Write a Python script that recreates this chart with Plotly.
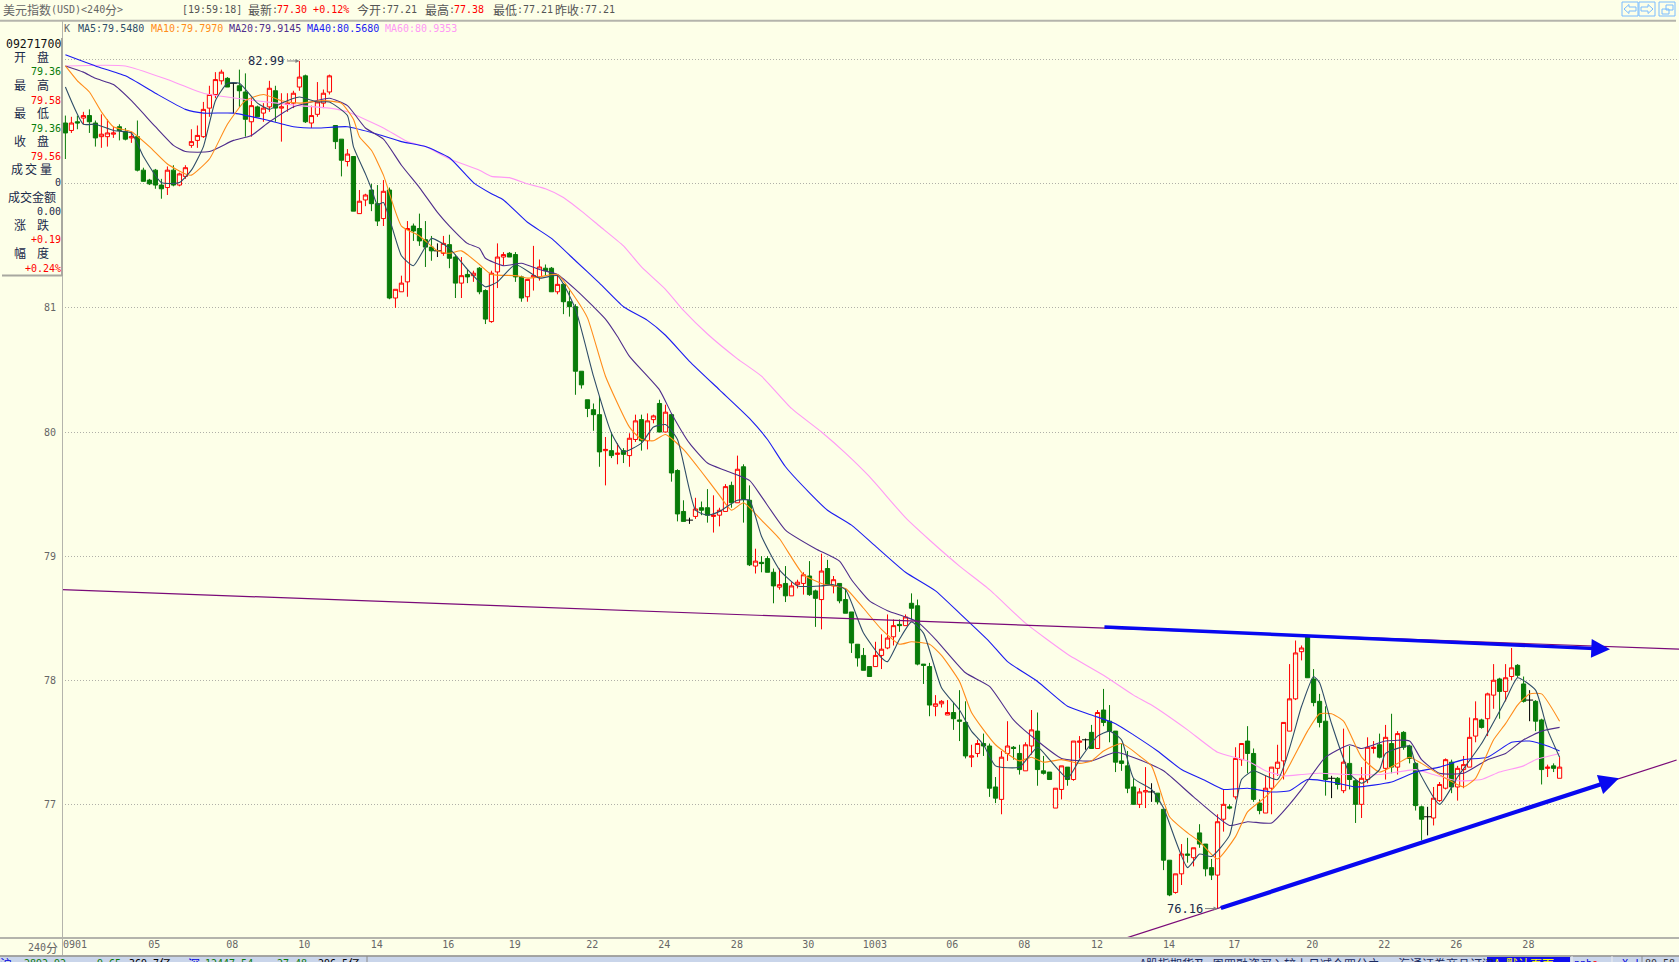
import re
import plotly.graph_objects as go

opens = [82.49,82.43,82.5,82.53,82.55,82.49,82.38,82.38,82.4,82.46,
82.42,82.37,82.38,82.11,82.03,82.11,81.99,81.97,82.11,81.99,
82.06,82.31,82.35,82.38,82.61,82.72,82.83,82.85,82.81,82.79,
82.74,82.5,82.62,82.57,82.62,82.75,82.61,82.64,82.65,82.78,
82.87,82.49,82.56,82.65,82.74,82.47,82.36,82.18,82.22,81.76,
81.87,81.95,81.84,81.72,81.95,81.08,81.13,81.21,81.66,81.64,
81.55,81.49,81.46,81.44,81.51,81.41,81.2,81.27,81.26,81.32,
81.14,80.89,81.29,81.41,81.44,81.43,81.25,81.09,81.25,81.25,
81.32,81.32,81.13,81.19,81.05,81.01,80.49,80.26,80.18,80.14,
79.85,79.85,79.82,79.85,79.81,79.94,80.1,79.93,80.1,80.23,
80.0,80.14,79.69,79.36,79.29,79.32,79.39,79.39,79.32,79.33,
79.36,79.57,79.43,79.72,79.45,78.92,78.95,78.98,78.87,78.75,
78.78,78.68,78.77,78.78,78.84,78.72,78.65,78.9,78.76,78.78,
78.65,78.55,78.29,78.2,78.11,78.11,78.2,78.26,78.35,78.45,
78.44,78.62,78.6,78.13,78.11,77.79,77.81,77.72,77.74,77.68,
77.66,77.38,77.41,77.49,77.47,77.14,77.04,77.41,77.46,77.41,
77.27,77.47,77.59,77.27,77.26,76.97,77.12,77.3,77.2,77.5,
77.52,77.58,77.45,77.76,77.67,77.59,77.35,77.31,77.14,77.0,
77.1,77.1,77.09,76.96,76.55,76.29,76.44,76.6,76.57,76.77,
76.68,76.49,76.43,76.88,76.98,77.06,77.36,77.51,77.41,77.01,
76.93,77.13,77.29,77.35,77.59,77.85,78.23,78.35,78.01,77.83,
77.67,77.21,77.21,77.11,77.33,77.19,77.0,77.2,77.45,77.48,
77.29,77.49,77.3,77.58,77.47,77.33,76.98,76.9,76.89,77.03,
77.13,77.34,77.14,77.28,77.3,77.55,77.68,77.69,77.88,78.01,
77.91,78.03,78.12,77.97,77.84,77.83,77.68,77.29,77.31,77.21]

closes = [82.41,82.49,82.49,82.55,82.5,82.37,82.4,82.41,82.41,82.43,
82.36,82.38,82.11,82.02,82.0,81.99,81.96,82.11,81.99,82.08,
82.13,82.34,82.39,82.6,82.72,82.84,82.9,82.78,82.81,82.75,
82.52,82.63,82.54,82.61,82.77,82.61,82.62,82.65,82.73,82.86,
82.5,82.55,82.66,82.73,82.87,82.34,82.19,82.24,81.78,81.86,
81.91,81.84,81.7,81.94,81.08,81.15,81.2,81.64,81.62,81.54,
81.49,81.46,81.46,81.52,81.4,81.2,81.26,81.25,81.28,81.13,
80.91,81.28,81.41,81.43,81.41,81.25,81.08,81.23,81.26,81.33,
81.3,81.13,81.19,81.05,81.01,80.49,80.38,80.19,80.14,79.84,
79.86,79.81,79.83,79.82,79.95,80.09,79.93,80.09,80.13,80.0,
80.16,79.67,79.34,79.28,79.29,79.38,79.37,79.33,79.33,79.37,
79.56,79.43,79.7,79.46,78.93,78.96,78.94,78.87,78.76,78.77,
78.68,78.76,78.79,78.85,78.69,78.66,78.88,78.77,78.81,78.64,
78.54,78.3,78.18,78.08,78.03,78.2,78.25,78.34,78.44,78.44,
78.51,78.58,78.13,78.12,77.8,77.81,77.83,77.74,77.69,77.67,
77.39,77.39,77.49,77.47,77.13,77.05,77.38,77.47,77.45,77.28,
77.48,77.6,77.28,77.25,77.2,77.13,77.31,77.2,77.51,77.51,
77.52,77.45,77.74,77.66,77.59,77.34,77.33,77.13,77.0,77.1,
77.11,77.1,77.02,76.55,76.27,76.44,76.6,76.59,76.65,76.68,
76.48,76.43,76.86,77.0,76.97,77.37,77.49,77.41,77.04,76.95,
77.13,77.3,77.34,77.66,77.85,78.22,78.26,78.02,77.82,77.66,
77.2,77.21,77.16,77.34,77.2,77.0,77.21,77.46,77.46,77.38,
77.54,77.3,77.57,77.46,77.37,76.99,76.88,76.9,77.05,77.16,
77.36,77.14,77.29,77.32,77.54,77.69,77.62,77.89,78.0,77.91,
78.02,78.1,78.04,77.83,77.84,77.67,77.28,77.3,77.29,77.3]

highs = [82.55,82.54,82.55,82.58,82.6,82.51,82.56,82.52,82.46,82.48,
82.45,82.42,82.51,82.13,82.04,82.12,82.04,82.14,82.15,82.09,
82.15,82.44,82.47,82.66,82.79,82.9,82.92,82.86,82.81,82.92,
82.89,82.69,82.63,82.65,82.83,82.79,82.73,82.73,82.75,82.99,
82.88,82.63,82.82,82.76,82.88,82.47,82.36,82.28,82.22,81.95,
81.92,82.0,81.99,82.03,81.97,81.15,81.26,81.7,81.68,81.76,
81.7,81.58,81.52,81.58,81.59,81.43,81.41,81.31,81.3,81.33,
81.15,81.3,81.52,81.45,81.45,81.45,81.26,81.23,81.5,81.39,
81.35,81.33,81.27,81.2,81.14,81.03,80.49,80.26,80.23,80.29,
79.96,80.0,79.91,79.87,79.99,80.14,80.14,80.15,80.14,80.26,
80.22,80.15,79.7,79.45,79.31,79.47,79.44,79.54,79.49,79.39,
79.58,79.6,79.81,79.74,79.57,79.06,79.0,79.0,78.9,78.9,
78.92,78.79,78.81,78.87,78.96,78.73,79.02,78.97,78.84,78.78,
78.74,78.55,78.29,78.26,78.11,78.31,78.37,78.53,78.49,78.49,
78.53,78.7,78.65,78.13,78.14,77.88,77.84,77.84,77.82,77.92,
77.83,77.48,77.52,77.57,77.49,77.22,77.43,77.67,77.47,77.48,
77.5,77.76,77.74,77.39,77.26,77.13,77.31,77.3,77.51,77.55,
77.53,77.64,77.76,77.93,77.8,77.59,77.49,77.43,77.21,77.13,
77.3,77.17,77.09,76.96,76.55,76.44,76.68,76.73,76.65,76.84,
76.68,76.56,76.92,77.12,77.0,77.46,77.49,77.63,77.45,77.04,
77.23,77.3,77.48,77.66,78.13,78.32,78.28,78.35,78.09,77.89,
77.79,77.23,77.22,77.61,77.47,77.2,77.3,77.54,77.51,77.57,
77.64,77.73,77.59,77.59,77.48,77.34,76.99,76.98,77.14,77.18,
77.37,77.36,77.31,77.39,77.7,77.83,77.69,77.9,78.13,78.02,
78.13,78.26,78.13,78.03,77.92,77.84,77.69,77.32,77.33,77.38]

lows = [82.2,82.41,82.44,82.48,82.41,82.3,82.29,82.3,82.37,82.35,
82.35,82.33,82.1,82.02,81.99,81.96,81.88,81.91,81.98,81.98,
82.04,82.29,82.29,82.37,82.54,82.69,82.8,82.78,82.57,82.62,
82.38,82.38,82.54,82.5,82.58,82.5,82.34,82.58,82.61,82.75,
82.49,82.45,82.54,82.61,82.72,82.28,82.06,82.14,81.78,81.76,
81.82,81.78,81.66,81.66,81.07,81.0,81.13,81.09,81.54,81.5,
81.33,81.38,81.41,81.42,81.32,81.08,81.08,81.2,81.21,81.11,
80.87,80.88,81.16,81.34,81.41,81.21,81.05,81.05,81.14,81.22,
81.26,81.13,81.11,80.95,80.93,80.3,80.35,80.12,80.01,79.72,
79.57,79.79,79.74,79.75,79.72,79.92,79.85,79.86,80.07,80.0,
80.0,79.6,79.28,79.28,79.26,79.3,79.33,79.27,79.19,79.24,
79.36,79.39,79.43,79.27,78.92,78.86,78.87,78.87,78.62,78.73,
78.63,78.68,78.74,78.69,78.68,78.43,78.41,78.77,78.7,78.62,
78.54,78.22,78.11,78.08,78.03,78.11,78.09,78.25,78.28,78.39,
78.44,78.49,78.12,77.97,77.71,77.71,77.78,77.72,77.6,77.51,
77.37,77.3,77.38,77.39,77.06,77.01,76.92,77.35,77.36,77.24,
77.27,77.4,77.15,77.24,77.2,76.97,77.04,77.15,77.19,77.37,
77.44,77.45,77.45,77.63,77.5,77.26,77.27,77.09,77.0,76.97,
76.97,77.02,77.0,76.47,76.26,76.28,76.35,76.53,76.5,76.65,
76.42,76.39,76.16,76.78,76.96,77.04,77.31,77.25,77.02,76.92,
76.93,76.92,77.23,77.2,77.59,77.84,78.16,78.02,77.79,77.62,
77.07,77.05,77.12,77.09,77.12,76.85,76.89,77.17,77.41,77.37,
77.2,77.25,77.24,77.44,77.33,76.95,76.71,76.75,76.83,77.02,
77.12,77.09,77.03,77.13,77.3,77.5,77.61,77.55,77.77,77.69,
77.83,78.0,78.02,77.82,77.67,77.59,77.16,77.22,77.26,77.21]

doji_idx = [28, 62, 104, 170, 181, 211, 227, 244]

ma5_idx = [0,3,5,8,11,13,16,19,21,23,25,27,29,32,34,36,39,42,44,47,48,50,51,52,53,56,58,61,64,67,70,72,75,79,82,85,88,91,93,96,98,100,102,105,107,109,112,114,116,119,122,126,128,130,133,136,137,139,141,143,146,149,151,153,155,159,162,164,167,169,172,174,176,178,181,183,187,189,191,194,196,198,202,206,208,209,211,214,216,219,220,224,225,229,232,236,240,242,245,247,249]
ma5_val = [82.78,82.48,82.48,82.43,82.41,82.22,82.01,82.01,82.11,82.3,82.67,82.81,82.81,82.65,82.6,82.65,82.7,82.66,82.66,82.55,82.3,82.08,81.96,81.83,81.85,81.42,81.34,81.56,81.48,81.31,81.17,81.21,81.35,81.24,81.26,80.99,80.45,79.99,79.84,79.91,80.04,80.06,79.94,79.37,79.33,79.36,79.45,79.45,79.16,78.89,78.76,78.76,78.77,78.73,78.38,78.18,78.15,78.33,78.47,78.38,77.94,77.76,77.59,77.48,77.31,77.3,77.46,77.36,77.21,77.36,77.55,77.59,77.52,77.21,77.12,76.97,76.49,76.6,76.58,76.75,77.2,77.27,77.2,77.79,78.03,77.98,77.65,77.25,77.17,77.28,77.41,77.47,77.32,77.0,77.22,77.49,77.84,78.02,77.92,77.6,77.38]
ma10_idx = [0,2,4,6,8,11,14,17,20,21,24,27,30,33,36,39,43,46,48,49,51,53,56,59,62,64,66,69,71,75,77,79,82,85,87,90,94,96,98,100,103,106,109,111,113,116,119,123,126,130,133,136,139,141,144,146,149,151,155,159,161,163,166,169,171,173,176,179,181,184,187,189,192,195,197,200,203,207,209,211,213,216,219,222,224,226,230,233,235,238,240,242,244,246,249]
ma10_val = [82.95,82.83,82.74,82.58,82.46,82.42,82.3,82.16,82.08,82.07,82.2,82.48,82.67,82.72,82.67,82.65,82.67,82.65,82.52,82.38,82.27,82.07,81.66,81.58,81.46,81.44,81.46,81.35,81.27,81.26,81.24,81.25,81.27,81.08,80.92,80.45,80.04,79.94,79.93,79.98,79.86,79.68,79.49,79.37,79.43,79.29,79.14,78.85,78.78,78.74,78.58,78.41,78.29,78.31,78.29,78.2,77.99,77.74,77.48,77.35,77.38,77.34,77.36,77.33,77.35,77.43,77.49,77.39,77.31,76.9,76.77,76.7,76.56,76.74,76.94,77.06,77.23,77.59,77.73,77.73,77.67,77.38,77.26,77.33,77.38,77.33,77.21,77.14,77.21,77.52,77.65,77.8,77.89,77.89,77.67]
ma20_idx = [0,3,5,8,11,15,18,20,24,28,31,34,38,41,44,47,50,53,56,59,62,64,67,69,70,73,76,79,82,85,88,90,92,94,99,101,104,107,110,114,116,120,125,129,131,134,137,140,142,145,150,154,158,162,166,171,175,179,183,188,194,197,201,204,206,210,214,216,220,224,226,229,233,237,240,243,246,249]
ma20_val = [82.95,82.9,82.85,82.8,82.67,82.46,82.31,82.26,82.26,82.35,82.39,82.5,82.62,82.66,82.69,82.63,82.45,82.36,82.15,81.97,81.77,81.66,81.52,81.48,81.4,81.34,81.36,81.31,81.27,81.15,81.01,80.91,80.77,80.61,80.34,80.15,79.91,79.75,79.69,79.61,79.48,79.21,79.06,78.96,78.81,78.64,78.56,78.51,78.47,78.33,78.06,77.95,77.68,77.51,77.37,77.35,77.42,77.36,77.27,77.06,76.83,76.86,76.85,77.0,77.12,77.38,77.48,77.45,77.51,77.51,77.36,77.25,77.25,77.36,77.41,77.52,77.59,77.62]
ma40_idx = [0,5,10,15,20,23,28,33,38,42,47,52,56,60,64,68,71,73,77,81,85,89,93,97,100,104,109,114,117,120,124,127,131,135,140,145,149,154,157,162,167,171,175,178,182,186,190,193,197,201,204,207,211,215,221,225,229,233,237,241,244,247,249]
ma40_val = [83.04,82.95,82.87,82.73,82.6,82.57,82.57,82.52,82.46,82.45,82.46,82.4,82.34,82.3,82.21,82.01,81.92,81.87,81.69,81.56,81.38,81.2,81.01,80.9,80.78,80.57,80.34,80.11,79.94,79.72,79.51,79.37,79.25,79.08,78.87,78.72,78.54,78.31,78.15,77.99,77.79,77.72,77.65,77.56,77.43,77.28,77.19,77.12,77.13,77.1,77.11,77.2,77.18,77.14,77.18,77.26,77.3,77.36,77.38,77.5,77.51,77.47,77.43]
ma60_idx = [0,10,17,23,30,39,44,47,53,57,60,64,69,71,74,77,80,83,86,89,93,96,100,103,107,112,116,121,126,130,134,140,144,149,154,160,167,173,178,181,187,192,197,200,203,206,209,214,219,225,228,232,236,239,243,245,249]
ma60_val = [82.95,82.95,82.84,82.73,82.68,82.63,82.61,82.58,82.45,82.34,82.3,82.2,82.11,82.06,82.05,82.0,81.96,81.89,81.78,81.66,81.5,81.33,81.15,80.98,80.79,80.59,80.45,80.19,80.0,79.83,79.64,79.31,79.13,78.92,78.73,78.46,78.21,78.04,77.88,77.8,77.6,77.42,77.35,77.27,77.23,77.24,77.25,77.24,77.24,77.28,77.24,77.19,77.2,77.26,77.31,77.36,77.41]

trend_upper_idx = [-0.57, 268.9]
trend_upper_val = [78.73, 78.25]
trend_lower_idx = [176.6, 268.5]
trend_lower_val = [75.92, 77.357]
blue_upper = ((172.9, 78.43), (257.4, 78.25))
blue_lower = ((192.3, 76.16), (258.9, 77.21))

y_ticks = [83, 82, 81, 80, 79, 78, 77]
y_tick_text = ["", "", "81", "80", "79", "78", "77"]
x_tick_pos = [1.6,14.8,27.8,39.8,51.9,63.8,74.9,87.8,99.8,111.9,123.8,134.9,147.8,159.8,171.9,183.9,194.8,207.8,219.8,231.8,243.8]
x_tick_text = ["0901","05","08","10","14","16","19","22","24","28","30","1003","06","08","12","14","17","20","22","26","28"]

for a, b in [(ma5_idx, ma5_val), (ma10_idx, ma10_val), (ma20_idx, ma20_val), (ma40_idx, ma40_val), (ma60_idx, ma60_val)]:
    assert len(a) == len(b), (len(a), len(b))
assert len(opens) == len(closes) == len(highs) == len(lows) == 250, (len(opens), len(closes), len(highs), len(lows))

BG = "#fdffe8"
RED = "#ff0000"
GREEN = "#087b08"
C5, C10, C20, C40, C60 = "#2f4d68", "#ff8c1a", "#4f2d8c", "#1c1cf0", "#ff99f5"
NAVY = "#1a2a4a"
GREY = "#666666"
MONO = "DejaVu Sans Mono"
W, H = 1679, 962
L, R, T, B = 62, 1679, 21, 938


def xp(px):
    return (px - L) / (R - L)


def yp(py):
    return (B - py) / (B - T)


anns = []
shapes = []


def run(px, py, text, color, size=None, family=None, anchor="left"):
    anns.append(dict(x=xp(px), y=yp(py), xref="paper", yref="paper", text=text, showarrow=False,
                     xanchor=anchor, yanchor="middle", borderpad=0, borderwidth=0,
                     font=dict(family=family or MONO, size=size or 10, color=color)))


def line(px, py, text, color):
    """Bitmap-style placement: CJK glyphs 12 px wide, ASCII glyphs 6 px wide."""
    for part in re.findall(r"[\u4e00-\u9fff]+|[^\u4e00-\u9fff]+", text):
        if re.match(r"[\u4e00-\u9fff]", part):
            run(px, py, part, color, 12, "Noto Sans CJK SC")
            px += 12 * len(part)
        else:
            run(px, py, part, color)
            px += 6 * len(part)


def rect(x0, y0, x1, y1, fill=None, color=None, width=1):
    shapes.append(dict(type="rect", xref="paper", yref="paper", x0=xp(x0), x1=xp(x1), y0=yp(y0), y1=yp(y1),
                       fillcolor=fill or "rgba(0,0,0,0)", line=dict(color=color or "rgba(0,0,0,0)", width=width if color else 0),
                       layer="above"))


def seg(x0, y0, x1, y1, color, width=1):
    shapes.append(dict(type="line", xref="paper", yref="paper", x0=xp(x0), x1=xp(x1), y0=yp(y0), y1=yp(y1),
                       line=dict(color=color, width=width), layer="above"))


fig = go.Figure()

idx = list(range(len(opens)))
keep = [i for i in idx if i not in doji_idx]
fig.add_trace(go.Candlestick(
    x=keep, open=[opens[i] for i in keep], high=[highs[i] for i in keep],
    low=[lows[i] for i in keep], close=[closes[i] for i in keep],
    increasing=dict(line=dict(color=RED, width=1), fillcolor=BG),
    decreasing=dict(line=dict(color=GREEN, width=1), fillcolor=GREEN),
    whiskerwidth=0, hoverinfo="skip"))

wx, wy = [], []
for i in doji_idx:
    wx += [i, i, None]
    wy += [lows[i], highs[i], None]
fig.add_trace(go.Scatter(x=wx, y=wy, mode="lines", line=dict(color="#000000", width=1), hoverinfo="skip"))
fig.add_trace(go.Scatter(x=doji_idx, y=[closes[i] for i in doji_idx], mode="markers",
                         marker=dict(symbol="line-ew", size=5, line=dict(color="#000000", width=1)), hoverinfo="skip"))

for xs, ys, c in [(ma60_idx, ma60_val, C60), (ma40_idx, ma40_val, C40), (ma20_idx, ma20_val, C20),
                  (ma10_idx, ma10_val, C10), (ma5_idx, ma5_val, C5)]:
    fig.add_trace(go.Scatter(x=xs, y=ys, mode="lines", line=dict(color=c, width=1.1, shape="spline", smoothing=0.5), hoverinfo="skip"))

for xs, ys in [(trend_upper_idx, trend_upper_val), (trend_lower_idx, trend_lower_val)]:
    fig.add_trace(go.Scatter(x=xs, y=ys, mode="lines", line=dict(color="#7a0a78", width=1.2), hoverinfo="skip"))

for ((x0, y0), (x1, y1)), aw, sz in [(blue_upper, 3.4, 1.1), (blue_lower, 4.2, 0.95)]:
    anns.append(dict(x=x1, y=y1, ax=x0, ay=y0, xref="x", yref="y", axref="x", ayref="y", text="", showarrow=True,
                     arrowhead=2, arrowsize=sz, arrowwidth=aw, arrowcolor="#0808f0", standoff=0))

# Header rows
line(3, 10, "美元指数(USD)<240分>", GREY)
line(182, 10, "[19:59:18] 最新:", "#555555")
line(277, 10, "77.30 +0.12%", RED)
line(357, 10, "今开:77.21", "#555555")
line(425, 10, "最高:", "#555555")
line(454, 10, "77.38", RED)
line(493, 10, "最低:77.21", "#555555")
line(555, 10, "昨收:77.21", "#555555")
line(64, 28, "K", GREY)
line(78, 28, "MA5:79.5480", C5)
line(151, 28, "MA10:79.7970", C10)
line(229, 28, "MA20:79.9145", C20)
line(307, 28, "MA40:80.5680", C40)
line(385, 28, "MA60:80.9353", C60)

# Left-hand quote panel
SIDE_R = 60.5
run(SIDE_R, 44, "09271700", "#111111", size=11.5, anchor="right")
for py, a, b in [(56.5, "开", "盘"), (84.5, "最", "高"), (112.5, "最", "低"), (140.5, "收", "盘"), (224.5, "涨", "跌"), (252.5, "幅", "度")]:
    line(14, py, a, NAVY)
    line(37, py, b, NAVY)
for px, ch in [(11, "成"), (25, "交"), (40, "量")]:
    line(px, 168.5, ch, NAVY)
line(8, 196.5, "成交金额", NAVY)
for py, text, color in [(72, "79.36", GREEN), (100, "79.58", RED), (128, "79.36", GREEN), (156, "79.56", RED),
                        (183, "0", NAVY), (212, "0.00", NAVY), (239, "+0.19", RED), (268, "+0.24%", RED)]:
    run(SIDE_R, py, text, color, anchor="right")

# Extreme-value markers
for i, text, val in [(39, "82.99", highs[39]), (192, "76.16", lows[192])]:
    anns.append(dict(x=i, y=val, xref="x", yref="y", text="", showarrow=True, ax=-14, ay=0, axref="pixel", ayref="pixel",
                     arrowhead=2, arrowsize=0.8, arrowwidth=1, arrowcolor="#808080", standoff=0))
    anns.append(dict(x=i, y=val, xref="x", yref="y", text=text, showarrow=False, xanchor="right", yanchor="middle",
                     xshift=-14, borderpad=0, font=dict(family=MONO, size=12, color=NAVY)))

# Frame
seg(0, 20.7, 1676, 20.7, "#b4b4ac", 2)
seg(0, B, W, B, "#b4b4ac", 2)
seg(L + 0.5, 21, L + 0.5, 955, "#b4b4ac", 1)
seg(L, 38, L, 276, "#a8a8a0", 2)
seg(2, 275.5, L, 275.5, "#a8a8a0", 2)
run(28, 947, "240", GREY)
line(46, 947, "分", GREY)

# Window buttons
BTN = "#7bbcff"
for x0, x1 in [(1622, 1638), (1639, 1655)]:
    rect(x0, 2, x1, 16, color=BTN, width=1)
shapes.append(dict(type="path", xref="paper", yref="paper", layer="above", line=dict(color=BTN, width=1),
                   path=f"M {xp(1624)} {yp(9)} L {xp(1629)} {yp(4.5)} L {xp(1629)} {yp(7)} L {xp(1636)} {yp(7)} L {xp(1636)} {yp(11)} L {xp(1629)} {yp(11)} L {xp(1629)} {yp(13.5)} Z"))
shapes.append(dict(type="path", xref="paper", yref="paper", layer="above", line=dict(color=BTN, width=1),
                   path=f"M {xp(1653)} {yp(9)} L {xp(1648)} {yp(4.5)} L {xp(1648)} {yp(7)} L {xp(1641)} {yp(7)} L {xp(1641)} {yp(11)} L {xp(1648)} {yp(11)} L {xp(1648)} {yp(13.5)} Z"))
rect(1659, 2, 1675, 16, color=BTN, width=1)
rect(1662, 9, 1669, 14, color=BTN, width=1)
rect(1666, 5, 1673, 10, color=BTN, width=1)

# Status bar (cut by the window's lower edge)
rect(0, 956.5, W, 962, fill="#c9d5ea")
seg(0, 956, W, 956, "#8a8a8a", 1.5)
seg(367, 956, 367, 962, "#8a8a8a", 1)
rect(1487, 957, 1570, 962, fill="#1010ee")
seg(1572, 956, 1572, 962, "#eeeeee", 1)
seg(1612, 956, 1612, 962, "#eeeeee", 1)
seg(1642, 956, 1642, 962, "#8a8a8a", 1)
SY = 963.5
line(0, SY, "沪", "#0000e0")
line(24, SY, "2892.92", GREEN)
line(97, SY, "9.65", GREEN)
line(129, SY, "369.7亿", "#000000")
line(188, SY, "深", "#0000e0")
line(205, SY, "12447.54", GREEN)
line(277, SY, "27.48", GREEN)
line(318, SY, "296.5亿", "#000000")
line(1140, SY, "A股指期货及 周四融资买入较上月减仓四分之一 海通证券商品订阅", "#1a2a60")
line(1494, SY, "A 默认页面", "#ffff00")
line(1574, SY, "pnb", "#0000e0")
line(1592, SY, "e", RED)
line(1622, SY, "X !", "#0000e0")
line(1645, SY, "80.58", "#333333")

fig.update_layout(
    width=W, height=H, margin=dict(l=L, r=W - R, t=T, b=H - B, pad=0, autoexpand=False),
    paper_bgcolor=BG, plot_bgcolor=BG, showlegend=False, boxgap=0.3, boxgroupgap=0, dragmode=False,
    annotations=anns, shapes=shapes,
    xaxis=dict(range=[-0.567, 268.9], rangeslider=dict(visible=False), showgrid=False, zeroline=False,
               tickmode="array", tickvals=x_tick_pos, ticktext=x_tick_text, ticks="", ticklen=0, ticklabelstandoff=-1,
               tickfont=dict(family=MONO, size=10, color=GREY), showline=False),
    yaxis=dict(range=[75.923, 83.312], showgrid=True, gridcolor="#b0b0a8", griddash="1px,2px", gridwidth=1, zeroline=False,
               tickmode="array", tickvals=y_ticks, ticktext=y_tick_text, ticks="outside", ticklen=3, tickcolor=BG,
               tickfont=dict(family=MONO, size=10, color=GREY), showline=False),
)

fig.write_html("out.html", config=dict(displayModeBar=False, staticPlot=True),
               post_script="document.documentElement.style.overflow='hidden';document.body.style.margin='0';document.body.style.overflow='hidden';")
